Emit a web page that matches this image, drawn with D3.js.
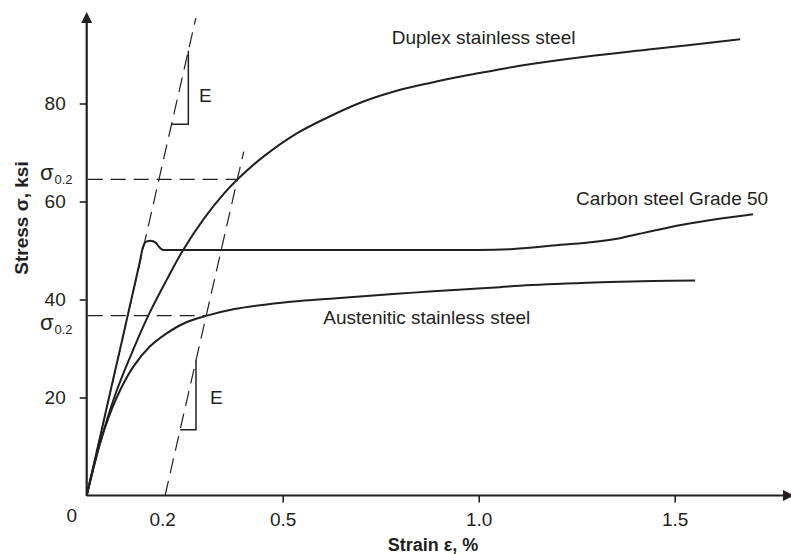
<!DOCTYPE html>
<html>
<head>
    <meta charset="utf-8">
    <title>Stress-strain curves</title>
    <script src="https://d3js.org/d3.v7.min.js"></script>
    <style>
        body { margin: 0; background: #fff; }
        svg { font-family: Arial, "Liberation Sans", sans-serif; }
    </style>
</head>
<body>
    <div id="chart"></div>

    <script>
        // ---- data (strain in %, stress in ksi) ----
        var duplexStrain = [0, 0.036, 0.072, 0.110, 0.157, 0.204, 0.246, 0.300, 0.350, 0.387, 0.450, 0.536, 0.621, 0.706, 0.791, 0.876, 0.961, 1.029, 1.105, 1.276, 1.445, 1.667];
        var duplexStress = [0, 11.2, 20.4, 28.1, 36.7, 44.0, 50.1, 56.6, 61.6, 64.7, 69.1, 73.9, 77.4, 80.4, 82.6, 84.2, 85.6, 86.6, 87.7, 89.6, 91.1, 93.1];

        var carbonStrain = [0, 0.07, 0.135, 0.144, 0.152, 0.163, 0.176, 0.186, 0.195, 0.4, 0.8, 1.0, 1.088, 1.19, 1.36, 1.41, 1.53, 1.70];
        var carbonStress = [0, 24.6, 47.5, 50.8, 51.8, 52.0, 51.6, 50.6, 50.1, 50.1, 50.1, 50.1, 50.3, 51.0, 52.5, 53.4, 55.4, 57.4];

        var austStrain = [0, 0.035, 0.0765, 0.119, 0.161, 0.204, 0.25, 0.302, 0.374, 0.459, 0.544, 0.629, 0.714, 0.799, 0.884, 0.969, 1.054, 1.105, 1.276, 1.445, 1.552];
        var austStress = [0, 11.0, 20.0, 26.3, 30.4, 33.1, 35.2, 36.6, 38.0, 39.0, 39.7, 40.2, 40.7, 41.2, 41.7, 42.1, 42.5, 42.8, 43.4, 43.8, 43.9];

        var modulusE = 350;                 // ksi per % strain, slope of dashed lines
        var elasticTopStress = [97.4, 70.2]; // where the dashed lines stop
        var offsetStrain = [0, 0.2];         // dashed line offsets
        var proofStress = [64.5, 36.7];      // sigma 0.2 levels (duplex, austenitic)
        var triangleStrain = [[0.2165, 0.2593], [0.0384, 0.0788]]; // E triangles, strain beyond offset

        var strainTicks = [0.5, 1.0, 1.5];
        var strainExtraLabels = [0, 0.2];
        var stressTicks = [20, 40, 60, 80];

        var curveNames = ["Duplex stainless steel", "Carbon steel Grade 50", "Austenitic stainless steel"];
        var curveLabelAt = [[0.778, 92.1], [1.248, 59.3], [0.6036, 35.0]];
        var eLabelAt = [[0.2865, 80.3], [0.3145, 18.7]];

        // ---- layout ----
        var width = 791, height = 554;
        var ink = "#231f20";

        var x = d3.scaleLinear().domain([0, 1.5]).range([86.7, 674.7]);
        var y = d3.scaleLinear().domain([0, 80]).range([495.5, 103.5]);

        var svg = d3.select("#chart").append("svg")
            .attr("width", width)
            .attr("height", height);

        // axes
        var yAxis = d3.axisLeft(y).tickValues(stressTicks).tickSize(7).tickPadding(14).tickSizeOuter(0);
        var xAxis = d3.axisBottom(x).tickValues(strainTicks).tickSize(7).tickPadding(10).tickSizeOuter(0)
            .tickFormat(d3.format(".1f"));

        var gy = svg.append("g").attr("transform", "translate(" + x(0) + ",0)").call(yAxis);
        var gx = svg.append("g").attr("transform", "translate(0," + y(0) + ")").call(xAxis);

        [gx, gy].forEach(function(g) {
            g.select(".domain").remove();
            g.selectAll(".tick line").attr("stroke", ink).attr("stroke-width", 1.6);
            g.selectAll(".tick text").attr("fill", ink).style("font-size", "19px");
        });

        svg.selectAll(".extra-x")
            .data(strainExtraLabels)
            .enter().append("text")
            .attr("x", function(d) { return x(d) - (d === 0 ? 15 : 2.5); })
            .attr("y", function(d) { return y(0) + (d === 0 ? 26 : 30); })
            .attr("text-anchor", "middle")
            .attr("fill", ink)
            .style("font-size", "19px")
            .text(function(d) { return d === 0 ? "0" : d3.format(".1f")(d); });

        // axis lines with arrow heads
        svg.append("line")
            .attr("x1", x(0)).attr("y1", y(0))
            .attr("x2", x(0)).attr("y2", 20)
            .attr("stroke", ink).attr("stroke-width", 2.2);
        svg.append("path")
            .attr("d", "M" + x(0) + ",12 L" + (x(0) - 5.5) + ",23 L" + (x(0) + 5.5) + ",23 Z")
            .attr("fill", ink);

        svg.append("line")
            .attr("x1", x(0)).attr("y1", y(0))
            .attr("x2", 786).attr("y2", y(0))
            .attr("stroke", ink).attr("stroke-width", 2.2);
        svg.append("path")
            .attr("d", "M794," + y(0) + " L783," + (y(0) - 5.5) + " L783," + (y(0) + 5.5) + " Z")
            .attr("fill", ink);

        // dashed elastic / offset lines
        svg.selectAll(".offset")
            .data(offsetStrain)
            .enter().append("line")
            .attr("x1", function(d) { return x(d); })
            .attr("y1", y(0))
            .attr("x2", function(d, i) { return x(d + elasticTopStress[i] / modulusE); })
            .attr("y2", function(d, i) { return y(elasticTopStress[i]); })
            .attr("stroke", ink).attr("stroke-width", 1.2)
            .attr("stroke-dasharray", "15,8");

        // dashed sigma 0.2 levels
        svg.selectAll(".proof")
            .data(proofStress)
            .enter().append("line")
            .attr("x1", x(0) + 1)
            .attr("y1", function(d) { return y(d); })
            .attr("x2", function(d) { return x(0.2 + d / modulusE); })
            .attr("y2", function(d) { return y(d); })
            .attr("stroke", ink).attr("stroke-width", 1.2)
            .attr("stroke-dasharray", "15,8");

        // E triangles
        svg.selectAll(".tri")
            .data(triangleStrain)
            .enter().append("path")
            .attr("d", function(d, i) {
                var off = offsetStrain[i];
                return d3.line()([
                    [x(off + d[0]), y(d[0] * modulusE)],
                    [x(off + d[1]), y(d[0] * modulusE)],
                    [x(off + d[1]), y(d[1] * modulusE)]
                ]);
            })
            .attr("fill", "none")
            .attr("stroke", ink).attr("stroke-width", 1.5);

        svg.selectAll(".elabel")
            .data(eLabelAt)
            .enter().append("text")
            .attr("x", function(d) { return x(d[0]); })
            .attr("y", function(d) { return y(d[1]); })
            .attr("fill", ink)
            .style("font-size", "19px")
            .text("E");

        // curves
        var smooth = d3.line()
            .x(function(d) { return x(d[0]); })
            .y(function(d) { return y(d[1]); })
            .curve(d3.curveCatmullRom.alpha(0.5));
        var monotone = d3.line()
            .x(function(d) { return x(d[0]); })
            .y(function(d) { return y(d[1]); })
            .curve(d3.curveMonotoneX);

        var curves = [
            { pts: d3.zip(duplexStrain, duplexStress), gen: smooth },
            { pts: d3.zip(carbonStrain, carbonStress), gen: monotone },
            { pts: d3.zip(austStrain, austStress), gen: smooth }
        ];

        svg.selectAll(".curve")
            .data(curves)
            .enter().append("path")
            .attr("d", function(d) { return d.gen(d.pts); })
            .attr("fill", "none")
            .attr("stroke", ink)
            .attr("stroke-width", 2);

        svg.selectAll(".clabel")
            .data(curveNames)
            .enter().append("text")
            .attr("x", function(d, i) { return x(curveLabelAt[i][0]); })
            .attr("y", function(d, i) { return y(curveLabelAt[i][1]); })
            .attr("fill", ink)
            .style("font-size", "19px")
            .text(function(d) { return d; });

        // sigma 0.2 labels
        var sigShift = [[0.5, 4.5], [14.3, 18.3]];
        proofStress.forEach(function(s, i) {
            svg.append("text")
                .attr("x", 40).attr("y", y(s) + sigShift[i][0])
                .attr("fill", ink).style("font-size", "22px")
                .text("σ");
            svg.append("text")
                .attr("x", 54.5).attr("y", y(s) + sigShift[i][1])
                .attr("fill", ink).style("font-size", "13px")
                .text("0.2");
        });

        // axis titles
        svg.append("text")
            .attr("x", 433).attr("y", 551)
            .attr("text-anchor", "middle")
            .attr("fill", ink)
            .style("font-size", "18px").style("font-weight", "bold")
            .text("Strain ε, %");

        svg.append("text")
            .attr("transform", "translate(28,218) rotate(-90)")
            .attr("text-anchor", "middle")
            .attr("fill", ink)
            .style("font-size", "19px").style("font-weight", "bold")
            .text("Stress σ, ksi");
    </script>
</body>
</html>
